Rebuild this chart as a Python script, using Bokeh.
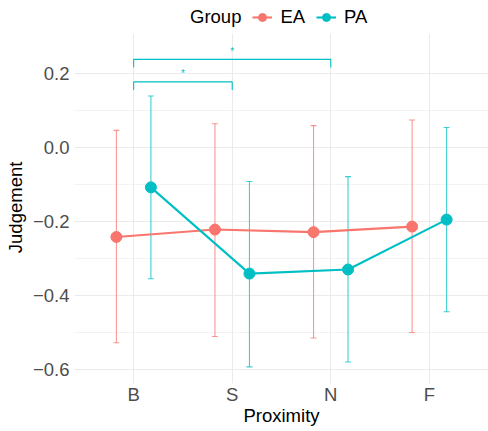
from bokeh.plotting import figure
from bokeh.models import (Range1d, FixedTicker, Legend, LegendItem, ColumnDataSource,
                          Whisker, TeeHead, BoxAnnotation)
from bokeh.embed import file_html
from bokeh.resources import INLINE
from bokeh.core.properties import value

# ---- data ----
categories = ["B", "S", "N", "F"]
cat_pos = [1, 2, 3, 4]
groups = ["EA", "PA"]
ea_mean = [-0.242, -0.222, -0.229, -0.214]
ea_lower = [-0.528, -0.511, -0.515, -0.500]
ea_upper = [0.046, 0.064, 0.059, 0.074]
pa_mean = [-0.108, -0.341, -0.330, -0.195]
pa_lower = [-0.355, -0.593, -0.580, -0.444]
pa_upper = [0.139, -0.092, -0.079, 0.054]
# significance brackets: (from, to, height, label)
sig_from = ["B", "B"]
sig_to = ["S", "N"]
sig_y = [0.177, 0.238]
sig_label = ["*", "*"]
y_ticks = [-0.6, -0.4, -0.2, 0.0, 0.2]
y_tick_labels = ["\u22120.6", "\u22120.4", "\u22120.2", "0.0", "0.2"]

EA_COL = "#F8766D"
PA_COL = "#00BFC4"
FONT = "Liberation Sans"
FS = "18.5px"
dodge = 0.175

FRAME_BOTTOM = 383
FRAME_LEFT = 74
PANEL_TOP_VALUE = 0.308   # top of the plotting panel; the strip above holds the legend

p = figure(width=488, height=431, output_backend="svg", toolbar_location=None,
           x_range=Range1d(0.4, 4.6), y_range=Range1d(-0.638, 0.397),
           min_border_left=FRAME_LEFT, min_border_right=0, min_border_top=0,
           min_border_bottom=431 - FRAME_BOTTOM)
p.outline_line_color = None
p.background_fill_color = "white"

# grid
p.xgrid.ticker = FixedTicker(ticks=cat_pos)
p.ygrid.ticker = FixedTicker(ticks=y_ticks, minor_ticks=[-0.5, -0.3, -0.1, 0.1])
p.xgrid.grid_line_color = "#EBEBEB"
p.ygrid.grid_line_color = "#EBEBEB"
p.xgrid.grid_line_width = 1.1
p.ygrid.grid_line_width = 1.1
p.ygrid.minor_grid_line_color = "#EBEBEB"
p.ygrid.minor_grid_line_width = 0.6

# white strip hiding the grid above the panel (legend area)
p.add_layout(BoxAnnotation(bottom=PANEL_TOP_VALUE, fill_color="white", fill_alpha=1.0,
                           line_color=None))

# axes
p.xaxis.ticker = FixedTicker(ticks=cat_pos)
p.xaxis.major_label_overrides = {c: l for c, l in zip(cat_pos, categories)}
p.yaxis.ticker = FixedTicker(ticks=y_ticks, minor_ticks=[])
p.yaxis.major_label_overrides = {t: l for t, l in zip(y_ticks, y_tick_labels)}
for ax in (p.xaxis, p.yaxis):
    ax.axis_line_color = None
    ax.major_tick_line_color = None
    ax.minor_tick_line_color = None
    ax.major_tick_out = 0
    ax.major_tick_in = 0
    ax.minor_tick_out = 0
    ax.major_label_text_font = FONT
    ax.major_label_text_font_size = FS
    ax.major_label_text_color = "#4D4D4D"
    ax.axis_label_text_font = FONT
    ax.axis_label_text_font_size = FS
    ax.axis_label_text_font_style = "normal"
    ax.axis_label_text_color = "black"
p.xaxis.axis_label = "Proximity"
# trailing no-break spaces shift the rotated title down to the panel's centre
p.yaxis.axis_label = "Judgement" + "\u00a0" * 6
p.xaxis.major_label_standoff = 0
p.xaxis.axis_label_standoff = -3
p.yaxis.major_label_standoff = 5
p.yaxis.axis_label_standoff = 4

# invisible renderer carrying the legend title "Group"
title_r = p.scatter(x=[], y=[], size=1, fill_alpha=0, line_alpha=0)
legend_items = [LegendItem(label="Group", renderers=[title_r])]
for name, mean, lo, hi, col, off in [("EA", ea_mean, ea_lower, ea_upper, EA_COL, -dodge),
                                       ("PA", pa_mean, pa_lower, pa_upper, PA_COL, dodge)]:
    xs = [c + off for c in cat_pos]
    src = ColumnDataSource(dict(x=xs, mean=mean, lower=lo, upper=hi))
    w = Whisker(base="x", upper="upper", lower="lower", source=src, dimension="height",
                line_color=col, line_alpha=0.75, line_width=1.1,
                upper_head=TeeHead(size=6, line_color=col, line_alpha=0.75, line_width=1.1),
                lower_head=TeeHead(size=6, line_color=col, line_alpha=0.75, line_width=1.1))
    p.add_layout(w)
    ln = p.line("x", "mean", source=src, line_color=col, line_width=2.1)
    sc = p.scatter("x", "mean", source=src, size=11, fill_color=col, line_color=col)
    legend_items.append(LegendItem(label=name, renderers=[ln, sc]))

# significance brackets
cat_index = {c: v for c, v in zip(categories, cat_pos)}
tick_len = 0.022
for f, t, y, lab in zip(sig_from, sig_to, sig_y, sig_label):
    x0, x1 = cat_index[f], cat_index[t]
    p.line([x0, x0, x1, x1], [y - tick_len, y, y, y - tick_len], line_color=PA_COL, line_width=1.1)
    p.text(x=[(x0 + x1) / 2], y=[y + 0.022], text=[lab], text_color=PA_COL,
           text_font=value(FONT), text_font_size="10px", text_align="center",
           text_baseline="middle")

legend = Legend(items=legend_items, orientation="horizontal",
                location=(162 - FRAME_LEFT, FRAME_BOTTOM - 28))
legend.label_text_font = FONT
legend.label_text_font_size = FS
legend.label_text_color = "black"
legend.label_height = 22
legend.glyph_width = 20
legend.glyph_height = 22
legend.label_standoff = 8
legend.spacing = 11
legend.padding = 0
legend.margin = 0
legend.border_line_color = None
legend.background_fill_alpha = 0
p.add_layout(legend, "center")

open("out.html", "w").write(file_html(p, INLINE))
